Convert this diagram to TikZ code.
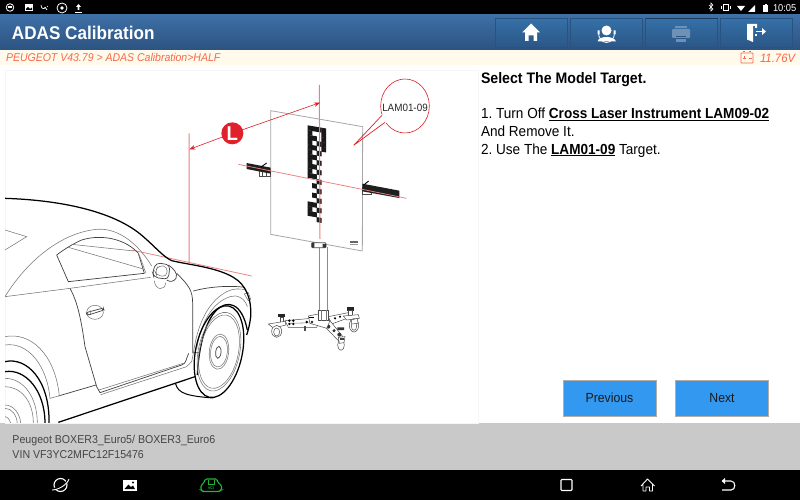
\documentclass[tikz,border=0pt]{standalone}
\usepackage{fontspec}
\usetikzlibrary{arrows.meta}
\setmainfont[FakeStretch=0.93]{Liberation Sans}
\frenchspacing
\definecolor{hdtop}{HTML}{3E6FA6}
\definecolor{hdbot}{HTML}{2C5380}
\definecolor{btntop}{HTML}{3570A8}
\definecolor{btnbot}{HTML}{2B5686}
\definecolor{btnedge}{HTML}{28527F}
\definecolor{btngrey}{HTML}{6E92B5}
\definecolor{crumb}{HTML}{F4694C}
\definecolor{cream}{HTML}{FFFAEB}
\definecolor{barg}{HTML}{C9C9C9}
\definecolor{blueb}{HTML}{3398F0}
\definecolor{blueedge}{HTML}{B5ADA5}
\definecolor{redl}{HTML}{EC7F7F}
\definecolor{redd}{HTML}{E0202A}
\definecolor{lineg}{HTML}{777777}
\definecolor{vcig}{HTML}{22B33A}
\definecolor{inkb}{HTML}{1A1A1A}
\definecolor{infot}{HTML}{444444}
\tikzset{
 txt/.style={inner sep=0pt,outer sep=0pt,anchor=base west},
 topbtn/.style={draw=btnedge,line width=1pt,outer sep=0pt,top color=btntop,bottom color=btnbot,minimum width=72pt,minimum height=29pt,inner sep=0pt,anchor=north west},
 bluebtn/.style={draw=blueedge,line width=.7pt,outer sep=0pt,fill=blueb,minimum width=93pt,minimum height=36pt,inner sep=0pt,anchor=north west,font=\fontsize{13.2}{13}\selectfont,text=inkb},
 thin/.style={draw=lineg,line width=.55pt},
 mid/.style={draw=black!75,line width=.7pt},
 heavy/.style={draw=black,line width=1.25pt},
 laser/.style={draw=redl,line width=.75pt},
 laserv/.style={draw=redl,line width=1pt},
 panel/.style={draw=gray!70,line width=.8pt,fill=white},
 stl/.style={draw=white,line width=.8pt},
 nav/.style={draw=white,line width=1.1pt},
 hw/.style={draw=black!70,line width=.5pt,fill=white}
}
\newcommand{\ck}[2]{\fill[black!90] ({307.5+4.6*#1},{125.3+4.75*#2+.8*#1}) -- ++(4.8,.8) -- ++(0,4.95) -- ++(-4.8,-.8) -- cycle;}
\begin{document}
\begin{tikzpicture}[x=1pt,y=-1pt]
\useasboundingbox (0,0) rectangle (800,500);
\fill[white] (0,0) rectangle (800,500);
% bars
\fill[black] (0,0) rectangle (800,15);
\shade[top color=hdtop,bottom color=hdbot] (0,15) rectangle (800,50);
\fill[cream] (0,50) rectangle (800,65);
\fill[barg] (0,423) rectangle (800,470);
\fill[black] (0,470) rectangle (800,500);
\draw[draw=black!4,line width=.8pt] (5,70) rectangle (478,423);
% header text
\node[txt,text=white,font=\bfseries\fontsize{18.4}{18}\selectfont] (title) at (12,39.5) {ADAS Calibration};
\node[txt,text=crumb,font=\itshape\fontsize{11.3}{12}\selectfont] (crumbs) at (6,62) {PEUGEOT V43.79 > ADAS Calibration>HALF};
\node[txt,text=crumb,font=\itshape\fontsize{12.2}{12}\selectfont] (volt) at (760,62.5) {11.76V};
\draw[crumb,line width=.8pt,rounded corners=.5pt] (741,53) rectangle (753,63);
\draw[crumb,line width=.8pt] (743,51.5)--(745,51.5) (749,51.5)--(751,51.5) (743,58)--(746,58) (744.5,56.5)--(744.5,59.5) (748.5,58)--(751.5,58);
% top buttons
\node[topbtn] (bhome) at (495.5,18.5) {};
\node[topbtn] (bsup) at (570.5,18.5) {};
\node[topbtn] (bprint) at (645.5,18.5) {};
\node[topbtn] (bexit) at (720.5,18.5) {};
\draw[draw=btnedge!70!black,line width=1pt] (645.5,18.5) -- (717.5,18.5);
% home icon
\fill[white] (531,23.5) -- (540,32.5) -- (537,32.5) -- (537,41) -- (533.5,41) -- (533.5,35.5) -- (528.5,35.5) -- (528.5,41) -- (525,41) -- (525,32.5) -- (522,32.5) -- cycle;
% support icon
\fill[white] (606.5,30.5) circle (5);
\fill[white] (597.5,41.5) .. controls (598,38.5) and (602,37) .. (606.5,37) .. controls (611,37) and (615,38.5) .. (616,41.5) -- cycle;
\draw[white,line width=.8pt] (598.5,33) arc[start angle=180,end angle=0,x radius=8,y radius=9.5];
\fill[white] (597.5,30.5) rectangle (599.5,34.5) (613.5,30.5) rectangle (615.5,34.5);
% printer icon
\fill[btngrey,rounded corners=1pt] (672,29) rectangle (690,38);
\fill[btngrey] (675,26) rectangle (687,28.3);
\fill[btngrey] (676,34) rectangle (686,42);
\draw[btnbot,line width=.6pt] (676,36)--(686,36) (676,38.5)--(686,38.5);
% exit icon
\fill[white] (747,24) -- (757,24) -- (757,28) -- (755,28) -- (755,26) -- (753,26) -- (753,42) -- (747,39.5) -- cycle;
\fill[white] (755,34) -- (755,36.5) -- (757,36.5) -- (757,34) -- cycle;
\draw[white,line width=1.6pt] (756,31.5) -- (763,31.5);
\fill[white] (762,28) -- (766,31.5) -- (762,35) -- cycle;
% status bar left
\draw[stl] (10,7.5) circle (3.8);
\fill[white] (8,6) rectangle (12,8.5);
\fill[white] (25,4) rectangle (33,11);
\fill[black] (26,9) -- (28,7) -- (30,9) -- (32,7.5) -- (32,10) -- (26,10) -- cycle;
\draw[white,line width=.7pt] (41,5) .. controls (41,9.5) and (45,9.5) .. (45,7) (45,7) -- (47,10) (47,7) -- (48,6);
\draw[stl] (62,8) circle (5);
\fill[white] (62,8) circle (1.8);
\fill[white] (78.5,4) -- (81,7) -- (79.3,7) -- (79.3,10) -- (77.7,10) -- (77.7,7) -- (76,7) -- cycle;
\draw[white,line width=.8pt] (75,12) -- (82,12);
% status bar right
\draw[white,line width=.6pt] (709,5)--(713,9)--(711,11)--(711,3)--(713,5)--(709,9);
\draw[white,line width=.8pt] (723,4.5) rectangle (728,10.5);
\draw[white,line width=.6pt] (721,6)--(721,9) (730,6)--(730,9);
\fill[white] (737,6) -- (745,6) -- (741,11) -- cycle;
\fill[white] (748,12) -- (755,5) -- (755,12) -- cycle;
\fill[white] (763,5) rectangle (768,12);
\fill[white] (764.5,3.7) rectangle (766.5,5);
\node[txt,text=white,font=\fontsize{10}{10}\selectfont] (clock) at (773,11.5) {10:05};
% right text
\node[txt,text=black,font=\bfseries\fontsize{15.2}{15}\selectfont] (head) at (481,84) {Select The Model Target.};
\node[txt,text=black,font=\fontsize{14.6}{15}\selectfont] (l1) at (481,119) {1. Turn Off \textbf{\underline{Cross Laser Instrument LAM09-02}}};
\node[txt,text=black,font=\fontsize{14.6}{15}\selectfont] (l2) at (481,136) {And Remove It.};
\node[txt,text=black,font=\fontsize{14.6}{15}\selectfont] (l3) at (481,154) {2. Use The \textbf{\underline{LAM01-09}} Target.};
% blue buttons
\node[bluebtn] (prev) at (563,380) {Previous};
\node[bluebtn] (next) at (675.5,380) {Next};
% info
\node[txt,text=infot,font=\fontsize{11.4}{11}\selectfont] (info1) at (12.5,443) {Peugeot BOXER3\_Euro5/ BOXER3\_Euro6};
\node[txt,text=infot,font=\fontsize{11.4}{11}\selectfont] (info2) at (12.5,458) {VIN VF3YC2MFC12F15476};
% nav bar
\draw[nav] (60.5,485) ellipse (6.5 and 6.5);
\draw[black,line width=1.6pt] (52,489) .. controls (58,489) and (66,484) .. (69,479);
\draw[white,line width=.9pt] (52,490) .. controls (58,490) and (67,485) .. (69,479);
\fill[white] (123,479.5) rectangle (136.5,490.5);
\fill[black] (124.5,489) -- (128.5,484.5) -- (131,487) -- (133,485.5) -- (135,489) -- cycle;
\fill[black] (133,482.5) circle (1.2);
\draw[vcig,line width=1.1pt,rounded corners=1.5pt] (205,479) -- (217,479) -- (218,483) -- (221.5,485) -- (221.5,490) -- (219,491.5) -- (203,491.5) -- (201,490) -- (201,485) -- (204,483) -- cycle;
\draw[vcig,line width=.8pt] (208,480) -- (208,484) -- (214,484) -- (214,480);
\node[text=vcig,font=\bfseries\fontsize{3.8}{3.8}\selectfont,inner sep=0pt] (vci) at (211,487.8) {VCI};
\draw[white,line width=1.1pt,rounded corners=.8pt] (561,479.5) rectangle (572,490.5);
\draw[white,line width=.9pt,line join=round] (641,486) -- (647.5,479) -- (654.5,486) (643,484.5) -- (643,491) -- (646,491) -- (646,487) -- (649.5,487) -- (649.5,491) -- (652.5,491) -- (652.5,484.5);
\draw[white,line width=1.1pt] (724,481) -- (731,481) .. controls (736,481) and (736,490) .. (731,490) -- (722,490);
\fill[white] (725,478) -- (725,484) -- (721.5,481) -- cycle;
%
% ---- car ---- (coordinates as in a 3x crop of (0,190))
\begin{scope}
\clip (5,71) rectangle (478,422.5);
\begin{scope}[shift={(0,190)},x=.33333pt,y=-.33333pt]
% laser reference line
\draw[laser] (395,180) -- (755,258);
% body
\draw[thin] (15,320) .. controls (70,230) and (170,130) .. (290,118) .. controls (360,112) and (420,170) .. (455,228);
\draw[thin] (15,120) -- (80,140) -- (15,180);
\draw[thin] (15,320) -- (210,295) -- (452,262);
\draw[mid] (170,195) -- (205,275) -- (433,250) -- (415,190) .. controls (380,150) and (310,130) .. (245,150) .. controls (215,163) and (190,180) .. (170,195);
\draw[thin] (205,172) -- (430,237);
\draw[thin] (215,163) -- (402,183) (415,190) .. controls (425,210) and (430,230) .. (437,248);
% door
\draw[mid] (210,295) .. controls (235,340) and (245,400) .. (255,470) -- (290,590) -- (300,608) -- (545,525) .. controls (560,520) and (558,505) .. (566,490);
\draw[mid] (530,250) .. controls (565,285) and (578,300) .. (578,340) -- (578,488) -- (600,488);
\draw[thin] (297,600) -- (550,520);
\draw[thin] (302,614) -- (560,530) -- (575,515) -- (580,490);
\draw[mid] (175,618) -- (288,585);
\draw[thin] (150,625) -- (175,618);
\draw[heavy] (175,697) -- (585,560);
% handle
\draw[thin] (285,367) ellipse (25 and 21);
\draw[mid,rounded corners=2pt] (258,368) -- (310,354) -- (312,360) -- (262,376) -- cycle;
\draw[thin] (270,360) -- (272,372);
% mirror
\draw[mid,rounded corners=4pt] (470,218) -- (510,225) -- (505,268) -- (462,262) -- (457,245) -- cycle;
\draw[thin,rounded corners=4pt] (476,226) -- (502,230) -- (500,260) -- (470,256) -- (465,245) -- cycle;
\draw[mid] (505,225) .. controls (520,235) and (535,250) .. (528,265) .. controls (522,275) and (510,277) .. (500,270);
\draw[thin] (463,272) .. controls (465,300) and (495,305) .. (497,278);
% fender
\draw[mid] (580,303) .. controls (620,292) and (680,285) .. (735,292);
\draw[thin] (580,490) .. controls (590,420) and (615,340) .. (680,305) .. controls (700,295) and (720,295) .. (738,300);
\draw[thin] (590,478) .. controls (600,410) and (630,340) .. (690,320) .. controls (710,312) and (735,325) .. (742,350);
\draw[heavy] (592,555) .. controls (595,490) and (610,400) .. (650,360) .. controls (680,330) and (725,335) .. (742,420);
% front wheel
\draw[heavy,rotate around={-12:(657,485)}] (657,485) ellipse (70 and 140);
\draw[thin,rotate around={-12:(657,485)}] (657,485) ellipse (62 and 120);
\draw[thin,rotate around={-12:(657,485)}] (657,485) ellipse (58 and 112);
\draw[thin,rotate around={-6:(657,485)}] (657,485) ellipse (29 and 53);
\draw[thin,rotate around={-6:(657,485)}] (657,485) ellipse (25 and 46);
\draw[mid,rotate around={-6:(655,487)}] (655,487) ellipse (8 and 18);
\draw[heavy,line width=1pt] (527,582) .. controls (535,610) and (560,618) .. (640,624);
% nose lamp
\draw[thin] (733,312) -- (745,308) -- (752,328) -- (745,332) -- cycle;
% roof + hood
\draw[heavy] (15,25) .. controls (170,30) and (340,60) .. (430,140) .. controls (470,175) and (490,200) .. (515,212) .. controls (570,225) and (650,232) .. (700,262) .. controls (740,285) and (755,330) .. (752,380) .. controls (750,400) and (745,420) .. (740,435);
% rear wheel
\draw[thin] (15,440) .. controls (90,425) and (165,490) .. (178,618);
\draw[thin] (15,465) .. controls (80,455) and (140,520) .. (150,625);
\draw[heavy] (15,515) .. controls (80,500) and (150,570) .. (147,700);
\draw[heavy] (15,545) .. controls (75,535) and (135,600) .. (135,700);
\draw[thin] (15,565) .. controls (70,565) and (112,620) .. (112,700);
\draw[thin] (15,590) .. controls (60,590) and (100,630) .. (100,700);
\draw[thin] (15,645) .. controls (40,645) and (60,670) .. (62,700);
\draw[thin] (15,655) .. controls (35,655) and (50,675) .. (52,700);
\draw[thin] (15,680) .. controls (22,680) and (30,690) .. (32,700);
\end{scope}
\end{scope}
%
% ---- target ---- (coordinates as in a 3x crop of (170,70))
\begin{scope}[shift={(170,70)},x=.33333pt,y=-.33333pt]
% stand pole
\draw[draw=black!45,line width=.6pt] (448,530) -- (448,725) (472,530) -- (472,725);
% board
\draw[panel] (302,122) -- (578,170) -- (577,543) -- (302,493) -- cycle;
\draw[hw,line width=.7pt,rounded corners=1pt] (425,518) rectangle (468,533);
\fill[black!80] (425,518) rectangle (433,533) (458,522) rectangle (468,533);
\fill[black!60] (540,514) rectangle (565,519);
\fill[black!40] (540,521) rectangle (565,526);
\end{scope}
% checker pattern
\foreach \r in {0,...,10} {\ck{0}{\r}}
\foreach \c/\r in {1/0,2/0,3/0,3/1,3/2,3/3,1/2,2/3,3/4,1/4,2/5,1/6,2/7,1/8,2/9,1/10,2/11,1/12,2/13,1/14,2/15,0/16,0/17,0/18,1/16,1/18,2/17,2/19}{\ck{\c}{\r}}
\begin{scope}[shift={(170,70)},x=.33333pt,y=-.33333pt]
% laser lines across target
\draw[laserv] (448,45) -- (450,507);
\draw[laserv] (57,190) -- (57.5,577);
% left sensor
\draw[hw] (268,300) rectangle (300,320);
\draw[draw=black!70,line width=.5pt] (278,300) -- (278,320) (290,300) -- (290,320);
\fill[black!88] (230,279) -- (302,293) -- (302,311) -- (230,297) -- cycle;
\draw[line width=.9pt,black] (272,292) -- (290,279);
% right sensor
\draw[hw] (578,352) rectangle (604,374);
\fill[black!88] (577,341) -- (688,362) -- (688,384) -- (577,364) -- cycle;
\draw[line width=.9pt,black] (580,346) -- (596,333);
% laser axis over both sensors
\draw[laser] (205,283) -- (710,385);
% L dimension
\draw[redd,line width=.6pt,-{Stealth[length=6pt,width=4.5pt]}] (187,190) -- (450,98);
\draw[redd,line width=.6pt,-{Stealth[length=6pt,width=4.5pt]}] (187,190) -- (58,238);
\fill[redd] (187,190) circle (33);
\node[text=white,font=\bfseries\fontsize{20}{20}\selectfont,inner sep=0pt] (lmark) at (187,190) {L};
% callout
\draw[redd,line width=.6pt,fill=white] (705,108) ellipse (73 and 81);
\fill[white] (630,133) -- (640,165) -- (655,155) -- (645,135) -- cycle;
\draw[redd,line width=.7pt] (636,136) -- (551,226) -- (645,157);
\node[text=black!85,font=\fontsize{10.6}{11}\selectfont,inner sep=0pt] (callout) at (705,113) {LAM01-09};
\end{scope}
%
% ---- stand base ---- (coordinates as in a 3x crop of (260,300))
\begin{scope}[shift={(260,300)},x=.33333pt,y=-.33333pt]
% left arm
\draw[hw] (75,62) -- (155,55) -- (175,70) -- (170,82) -- (85,82) -- cycle;
\draw[thin] (85,70) -- (165,68);
\fill[black] (88,62) circle (4) (100,62) circle (4) (88,72) circle (4) (100,72) circle (4) (140,66) circle (4) (155,68) circle (4);
\draw[hw] (132,78) rectangle (137,92);
% knob left
\fill[black!85] (55,42) rectangle (75,52);
\draw[hw] (60,52) rectangle (70,66);
\draw[hw] (25,72) -- (75,64) -- (78,75) -- (40,84) -- cycle;
\draw[hw] (50,94) ellipse (15 and 18);
\draw[hw] (50,96) ellipse (9 and 12);
% right arm
\draw[hw] (205,50) -- (265,38) -- (275,50) -- (215,72) -- cycle;
\fill[black] (225,55) circle (3.5) (240,50) circle (3.5);
\fill[black!85] (260,22) rectangle (282,32);
\draw[hw] (266,32) rectangle (276,46);
\draw[hw] (250,48) -- (295,44) -- (298,55) -- (260,60) -- cycle;
\draw[hw] (282,76) ellipse (14 and 20);
\draw[hw] (282,78) ellipse (8 and 13);
\draw[hw] (274,60) -- (292,55) -- (294,70) -- (275,72) -- cycle;
% front arm
\draw[hw] (185,70) -- (210,62) -- (250,112) -- (235,122) -- cycle;
\fill[black!80] (205,80) circle (6) (222,92) circle (5) (238,104) circle (6) (232,82) rectangle (252,90);
\draw[hw] (243,135) ellipse (10 and 16);
\draw[hw] (235,112) -- (255,110) -- (252,128) -- (238,130) -- cycle;
\fill[black!75] (240,113) rectangle (252,120);
% hub
\draw[hw] (145,48) -- (175,42) -- (210,62) -- (200,85) -- (150,70) -- cycle;
\fill[black!85] (156,66) circle (4);
\fill[black] (148,50) rectangle (162,54);
\draw[hw] (176,30) rectangle (205,62);
\draw[thin] (183,30) -- (183,62) (198,30) -- (198,62);
\end{scope}
\end{tikzpicture}
\end{document}
